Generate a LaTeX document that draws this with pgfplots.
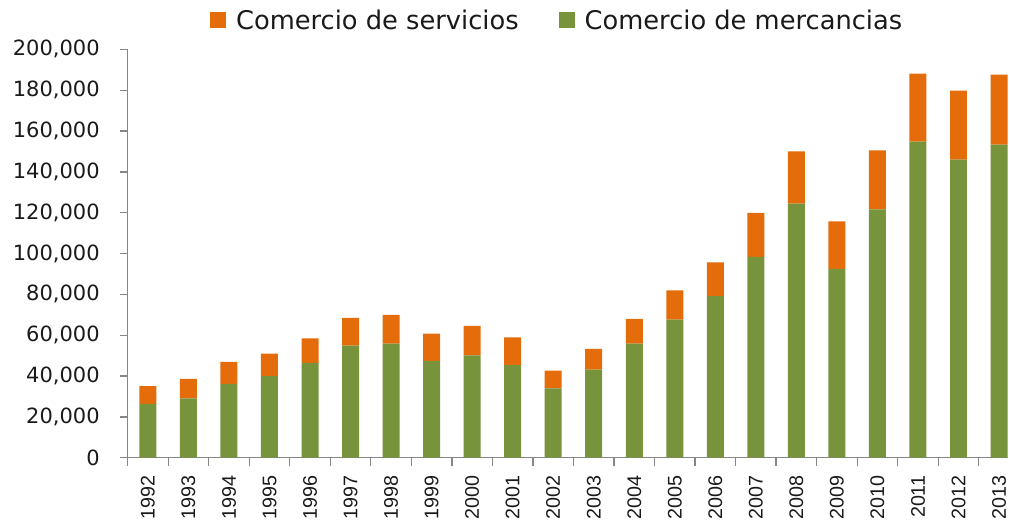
\documentclass[border=0pt]{standalone}
\usepackage{fontspec}
\setmainfont{DejaVu Sans}
\newfontfamily\arialfont{Liberation Sans}
\usepackage{pgfplots}
\pgfplotsset{compat=1.18}

\definecolor{servorange}{HTML}{E46C0A}
\definecolor{mercgreen}{HTML}{77933C}
\definecolor{axisgray}{HTML}{868686}
\definecolor{labeltxt}{HTML}{1A1A1A}

% values in US$ millions
\pgfplotstableread{
idx year merc serv
0  1992 26300  8700
1  1993 29000  9600
2  1994 36100 10800
3  1995 39900 11100
4  1996 46400 12100
5  1997 54900 13600
6  1998 55900 14000
7  1999 47400 13400
8  2000 50100 14500
9  2001 45400 13500
10 2002 34000  8600
11 2003 43100 10200
12 2004 55900 12100
13 2005 67600 14300
14 2006 79100 16600
15 2007 98400 21500
16 2008 124500 25600
17 2009 92500 23300
18 2010 121600 28900
19 2011 154800 33400
20 2012 146000 33800
21 2013 153400 34200
}\datatable

\begin{document}
\begin{tikzpicture}
\begin{axis}[
    at={(0,0)}, anchor=south west,
    scale only axis,
    width=661pt, height=306.4pt,
    ybar stacked, bar width=12.75pt,
    xmin=-0.5, xmax=21.23,
    ymin=0, ymax=200000,
    axis lines=left,
    axis line style={-, axisgray, line width=1pt},
    xtick={0,...,21},
    xticklabels={1992,1993,1994,1995,1996,1997,1998,1999,2000,2001,2002,2003,2004,2005,2006,2007,2008,2009,2010,2011,2012,2013},
    minor xtick={-0.5,0.5,...,21.5},
    major x tick style={draw=none},
    minor x tick style={axisgray, line width=1pt},
    y tick style={axisgray, line width=1pt},
    tick align=outside,
    major tick length=6pt, minor tick length=6pt,
    ytick={0,20000,...,200000},
    scaled y ticks=false,
    /pgf/number format/fixed,
    /pgf/number format/1000 sep={,},
    /pgf/number format/assume math mode=true,
    yticklabel style={anchor=east, inner sep=0pt, font=\fontsize{15.75}{18}\selectfont, text=labeltxt},
    yticklabel shift={14.8pt},
    xticklabel style={rotate=90, anchor=east, inner sep=0pt, font=\arialfont\fontsize{14.8}{17}\selectfont, text=labeltxt},
    xticklabel shift={7.2pt},
    legend columns=2,
    legend style={draw=none, fill=none, at={(0.0888,1.071)}, anchor=west,
        font=\fontsize{19.3}{22}\selectfont, text=labeltxt,
        nodes={inner sep=0pt},
        /tikz/every odd column/.append style={column sep=7.5pt},
        /tikz/every even column/.append style={column sep=30pt}},
    legend image code/.code={\fill[#1] (0pt,-6pt) rectangle (12pt,6pt);},
]
\addplot[fill=mercgreen, draw=none, forget plot] table[x=idx, y=merc] {\datatable};
\addplot[fill=servorange, draw=none] table[x=idx, y=serv] {\datatable};
\addlegendentry{Comercio de servicios}
\addlegendimage{fill=mercgreen, draw=none}
\addlegendentry{Comercio de mercancias}
\end{axis}
\path[use as bounding box] (-95.8pt,-44.25pt) rectangle (661pt,343.5pt);
\end{tikzpicture}
\end{document}
